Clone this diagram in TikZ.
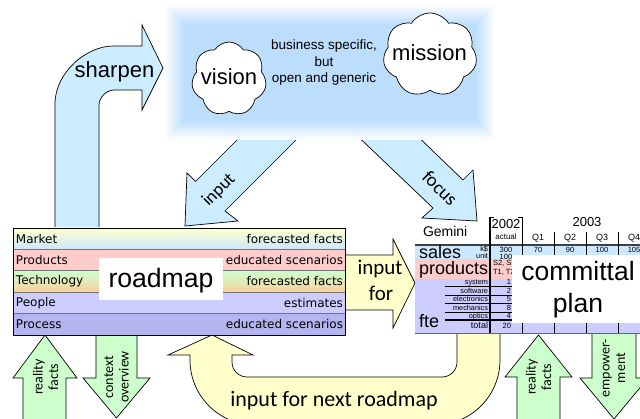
\documentclass[tikz,border=0pt]{standalone}
\usepackage{fontspec}
\setmainfont{Liberation Sans}
\newfontfamily\calfont{Carlito}
\newfontfamily\dvfont{DejaVu Sans}
\usetikzlibrary{shapes.symbols}
\definecolor{boxblue}{RGB}{188,221,252}
\definecolor{arrowblue}{RGB}{204,236,255}
\definecolor{lyellow}{RGB}{255,255,204}
\definecolor{lgreen}{RGB}{204,255,204}
\definecolor{lpink}{RGB}{255,204,204}
\definecolor{lblue}{RGB}{204,232,255}
\definecolor{lorange}{RGB}{255,204,153}
\definecolor{lav}{RGB}{204,204,255}
\definecolor{lavdark}{RGB}{180,180,238}
\newcommand\fsz[2]{\fontsize{#1}{#2}\selectfont}
\begin{document}
\begin{tikzpicture}[x=1pt,y=-1pt,line join=miter,
  arrowshape/.style={draw=black,line width=0.7pt},
  plain/.style={inner sep=0pt,outer sep=0pt},
  rowbox/.style={plain,anchor=north west,minimum width=332pt,minimum height=21.4pt},
  rowl/.style={plain,anchor=west,font=\dvfont\fsz{12}{14}},
  rowr/.style={plain,anchor=east,font=\dvfont\fsz{12}{14}},
  rotlbl/.style={plain,rotate=90,align=center,font=\calfont\fsz{14}{15.5}},
  tiny/.style={plain,font=\fsz{7.3}{8}},
  val/.style={plain,font=\fsz{7.5}{8}},
  cloudnode/.style={cloud,cloud puffs=7,cloud puff arc=115,aspect=1,draw=black,line width=0.7pt,fill=white,inner sep=0pt},
  whitebox/.style={plain,fill=white,anchor=north west}
]
\useasboundingbox (0,0) rectangle (640,419);
\clip (0,0) rectangle (640,419);
\fill[white] (0,0) rectangle (640,419);

% diagonal arrows from the vision box
\draw[arrowshape,fill=arrowblue] (252,125) -- (195.5,181.5) -- (187,173) -- (185,226) -- (238,221) -- (225,211) -- (311,125) -- cycle;
\draw[arrowshape,fill=arrowblue] (348,127) -- (433,208) -- (422,218) -- (477,221) -- (473,170) -- (463,180) -- (408,127) -- cycle;

% glowing vision box
\foreach \i in {0,...,19}{
  \pgfmathtruncatemacro\p{5*(\i+1)}
  \fill[boxblue!\p!white] (165+\i,5+\i) rectangle (495-\i,140-\i);
}
\node[plain,fill=boxblue,minimum width=292pt,minimum height=97pt] (visionbox) at (330,72.5) {};

\node[cloudnode,minimum width=75pt,minimum height=74pt] (visioncloud) at (229,79) {};
\node[plain,anchor=base,font=\fsz{22}{24}] (vision) at (229,85) {vision};
\node[cloudnode,minimum width=94pt,minimum height=84pt] (missioncloud) at (430,55) {};
\node[plain,anchor=base,font=\fsz{22}{24}] (mission) at (429.5,61) {mission};
\node[plain,align=center,font=\fsz{13.5}{16.5}] (business) at (324,63) {business specific,\\but\\open and generic};

\node[plain,rotate=45,font=\calfont\fsz{18}{20}] (inputlbl) at (219,190) {input};
\node[plain,rotate=-45,font=\calfont\fsz{19}{21}] (focuslbl) at (440,188) {focus};

% sharpen arrow
\draw[arrowshape,fill=arrowblue] (55,232) -- (55,104) .. controls (55,72) and (87,46) .. (113,46) -- (142,46) -- (142,25) -- (163,68) -- (142,110) -- (142,90) -- (114,90) .. controls (105.7,90) and (99,98.3) .. (99,105) -- (99,232) -- cycle;
\node[plain,anchor=base,font=\fsz{22}{24}] (sharpen) at (114.5,78) {sharpen};

% input for arrow
\draw[arrowshape,fill=lyellow] (340,255) -- (393,255) -- (393,239) -- (415,283) -- (393,328) -- (393,310) -- (340,310) -- cycle;
\node[plain,anchor=base,font=\calfont\fsz{21}{24}] (inputfor1) at (380,275) {input};
\node[plain,anchor=base,font=\calfont\fsz{21}{24}] (inputfor2) at (381,301) {for};

% input for next roadmap U-arrow
\draw[arrowshape,fill=lyellow] (212,335) -- (253,355) -- (232,355) -- (232,362) .. controls (232,370.3) and (238.7,377) .. (247,377) -- (442,377) .. controls (450.3,377) and (457,370.3) .. (457,362) -- (457,325) -- (500,325) -- (500,360) .. controls (500,395.9) and (470.9,425) .. (435,425) -- (255,425) .. controls (219.1,425) and (190,395.9) .. (190,360) -- (190,355) -- (168,355) -- cycle;
\node[plain,anchor=base,font=\calfont\fsz{22}{24}] (nextroadmap) at (334,407) {input for next roadmap};

% green arrows
\draw[arrowshape,fill=lgreen] (23,425) -- (23,378) -- (13,378) -- (45,335) -- (77,378) -- (66,378) -- (66,425) -- cycle;
\node[rotlbl] (reality1) at (45.5,377) {reality\\facts};
\draw[arrowshape,fill=lgreen] (96,330) -- (96,378) -- (83,378) -- (116.5,418) -- (150,378) -- (137,378) -- (137,330) -- cycle;
\node[rotlbl] (context) at (116.5,377) {context\\overview};
\draw[arrowshape,fill=lgreen] (517,425) -- (517,377) -- (505,377) -- (538.5,335) -- (572,377) -- (560,377) -- (560,425) -- cycle;
\node[rotlbl] (reality2) at (538.5,377) {reality\\facts};
\draw[arrowshape,fill=lgreen] (592,330) -- (592,378) -- (580,378) -- (614,419) -- (648,378) -- (636,378) -- (636,330) -- cycle;
\node[rotlbl] (empower) at (614,368) {empower-\\ment};

% roadmap
\node[rowbox,top color=lyellow,bottom color=lblue] (market) at (13,228) {};
\node[rowbox,fill=lpink] (products) at (13,249.4) {};
\node[rowbox,top color=lgreen,bottom color=lorange,middle color=lgreen!60!lorange] (technology) at (13,270.8) {};
\node[rowbox,fill=lav] (people) at (13,292.2) {};
\node[rowbox,fill=lavdark] (process) at (13,313.6) {};
\foreach \y in {249.4,270.8,292.2,313.6}{\draw[black!55,line width=1.2pt] (13,\y) -- (345,\y);}
\draw[black,line width=0.8pt] (13,228) rectangle (345,335);
\node[rowl] (mkl) at (16,238.7) {Market};
\node[rowr] (mkr) at (343,238.7) {forecasted facts};
\node[rowl] (pdl) at (16,260.1) {Products};
\node[rowr] (pdr) at (343,260.1) {educated scenarios};
\node[rowl] (tcl) at (16,281.5) {Technology};
\node[rowr] (tcr) at (343,281.5) {forecasted facts};
\node[rowl] (ppl) at (16,302.9) {People};
\node[rowr] (ppr) at (343,302.9) {estimates};
\node[rowl] (prl) at (16,324.3) {Process};
\node[rowr] (prr) at (343,324.3) {educated scenarios};
\node[whitebox,minimum width=124pt,minimum height=42pt] (roadmapbox) at (99,258) {};
\node[plain,anchor=base,font=\fsz{26.6}{28}] (roadmap) at (161,288) {roadmap};

% committal plan table
\fill[lblue] (415,245) rectangle (640,259);
\fill[lpink] (415,259) rectangle (640,279);
\fill[lav] (415,279) rectangle (640,333.5);
\foreach \y in {286,295,303,312}{\draw[line width=0.6pt] (445,\y) -- (640,\y);}
\draw[line width=1.2pt] (445,320) -- (640,320);
\draw[black!75,line width=1.4pt] (415,245) -- (640,245);
\draw[black!60,line width=1pt] (415,333.5) -- (640,333.5);
\draw[line width=1.3pt] (494,217.5) -- (490,217.5) -- (490,333.5);
\draw[line width=0.8pt] (518,217.5) -- (522,217.5) -- (522,333.5);
\foreach \x in {554,586,618}{\draw[line width=0.8pt] (\x,232) -- (\x,333.5);}

\node[plain,anchor=base west,font=\fsz{14}{16}] (gemini) at (423,237) {Gemini};
\node[plain,anchor=base,font=\fsz{13}{15}] (y2002) at (506,228.5) {2002};
\node[plain,anchor=base,font=\fsz{13}{15}] (y2003) at (587,227) {2003};
\node[plain,anchor=base,font=\fsz{8}{9}] (actual) at (506,240) {actual};
\node[plain,anchor=base,font=\fsz{9}{10}] (q1) at (538,241) {Q1};
\node[plain,anchor=base,font=\fsz{9}{10}] (q2) at (570,241) {Q2};
\node[plain,anchor=base,font=\fsz{9}{10}] (q3) at (602,241) {Q3};
\node[plain,anchor=base,font=\fsz{9}{10}] (q4) at (634,241) {Q4};

\node[plain,anchor=base west,font=\fsz{18}{20}] (sales) at (419,258.5) {sales};
\node[plain,anchor=base west,font=\fsz{18}{20}] (prods) at (419,275) {products};
\node[plain,anchor=base west,font=\fsz{18}{20}] (fte) at (419,328) {fte};
\node[tiny,anchor=base east] (kd) at (488,251.5) {k\$};
\node[tiny,anchor=base east] (unit) at (488,258.5) {unit};
\node[val,anchor=base] (v300) at (506,252.5) {300};
\node[val,anchor=base] (v70) at (538,252.5) {70};
\node[val,anchor=base] (v90) at (570,252.5) {90};
\node[val,anchor=base] (v100) at (602,252.5) {100};
\node[val,anchor=base] (v105) at (634,252.5) {105};
\node[val,anchor=base] (u100) at (506,259.5) {100};
\node[val,anchor=base west] (s2) at (493,265.5) {S2, S3, S4};
\node[val,anchor=base west] (t1) at (493,274.5) {T1, T2, T3};
\node[tiny,anchor=base east] (system) at (488,285) {system};
\node[tiny,anchor=base east] (software) at (488,294) {software};
\node[tiny,anchor=base east] (electronics) at (488,302) {electronics};
\node[tiny,anchor=base east] (mechanics) at (488,311) {mechanics};
\node[tiny,anchor=base east] (optics) at (488,319) {optics};
\node[plain,anchor=base east,font=\fsz{9}{10}] (total) at (488,328.5) {total};
\node[val,anchor=base east] (n1) at (511,285) {1};
\node[val,anchor=base east] (n2) at (511,294) {2};
\node[val,anchor=base east] (n5) at (511,302) {5};
\node[val,anchor=base east] (n8) at (511,311) {8};
\node[val,anchor=base east] (n4) at (511,319) {4};
\node[val,anchor=base east] (n20) at (511,328.5) {20};

\node[whitebox,minimum width=130pt,minimum height=68pt] (committalbox) at (512,255) {};
\node[plain,anchor=base,font=\fsz{26.5}{28}] (committal) at (578,281) {committal};
\node[plain,anchor=base,font=\fsz{26.5}{28}] (plan) at (578,313) {plan};
\end{tikzpicture}
\end{document}
